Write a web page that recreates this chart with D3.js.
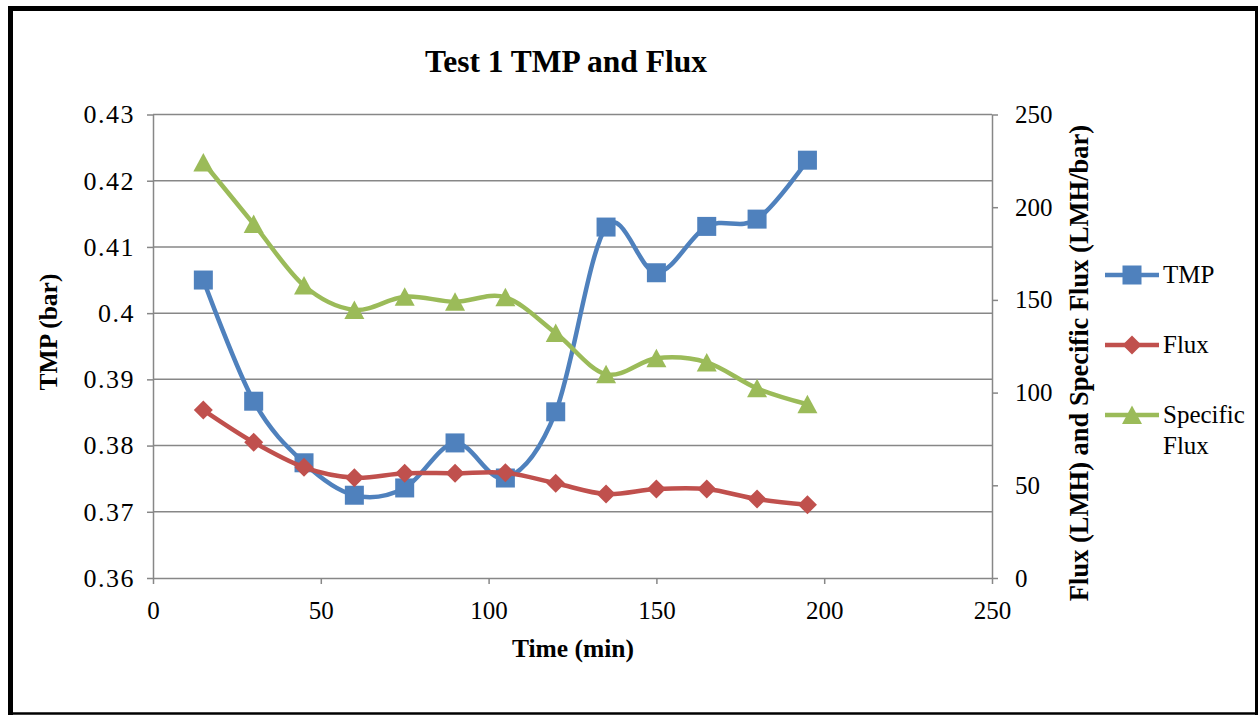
<!DOCTYPE html>
<html><head><meta charset="utf-8">
<script src="https://cdn.jsdelivr.net/npm/d3@7"></script>
<style>html,body{margin:0;padding:0;background:#fff;}svg{display:block;}</style>
</head><body>
<script>
const times = [15,30,45,60,75,90,105,120,135,150,165,180,195];
const tmp = [0.4050,0.3867,0.3774,0.3725,0.3736,0.3804,0.3751,0.3851,0.4130,0.4061,0.4131,0.4142,0.4231];
const flux = [90.6,73.2,59.7,54.1,56.5,56.5,56.8,51.1,45.3,48.0,48.0,42.6,39.5];
const specFlux = [224.1,190.9,157.7,144.6,151.7,149.0,151.4,132.1,109.9,118.5,116.3,102.3,93.7];
const xTicks = [0,50,100,150,200,250];
const leftTicks = [0.36,0.37,0.38,0.39,0.40,0.41,0.42,0.43];
const leftTickLabels = ["0.36","0.37","0.38","0.39","0.4","0.41","0.42","0.43"];
const rightTicks = [0,50,100,150,200,250];
const seriesNames = ["TMP","Flux","Specific Flux"];

const W=1259,H=715;
const FONT='"Liberation Serif","Times New Roman",serif';
const svg=d3.select("body").append("svg").attr("width",W).attr("height",H);

const x=d3.scaleLinear().domain([0,250]).range([153,992]);
const yL=d3.scaleLinear().domain([0.36,0.43]).range([578,114.5]);
const yR=d3.scaleLinear().domain([0,250]).range([578,114.5]);

const grid="#878787";
svg.append("g").selectAll("line").data(leftTicks.slice(1)).join("line")
  .attr("x1",x(0)).attr("x2",x(250)).attr("y1",d=>yL(d)).attr("y2",d=>yL(d))
  .attr("stroke",grid).attr("stroke-width",1.5);

function styleAxis(g,fs){
  g.select(".domain").attr("stroke",grid).attr("stroke-width",1.5);
  g.selectAll(".tick line").attr("stroke",grid).attr("stroke-width",1.5);
  g.selectAll("text").attr("font-family",FONT).attr("font-size",fs||25).attr("fill","#000");
}
const ax=svg.append("g").attr("transform",`translate(0,578)`)
  .call(d3.axisBottom(x).tickValues(xTicks).tickSize(6).tickSizeOuter(0).tickPadding(17).tickFormat(d3.format("d")));
styleAxis(ax);
const al=svg.append("g").attr("transform",`translate(153,0)`)
  .call(d3.axisLeft(yL).tickValues(leftTicks).tickSize(6).tickSizeOuter(0).tickPadding(12).tickFormat((d,i)=>leftTickLabels[i]));
styleAxis(al,26);
al.selectAll("text").attr("letter-spacing",1.5);
const ar=svg.append("g").attr("transform",`translate(992,0)`)
  .call(d3.axisRight(yR).tickValues(rightTicks).tickSize(6).tickSizeOuter(0).tickPadding(17).tickFormat(d3.format("d")));
styleAxis(ar);

const colors=["#4F81BD","#C0504D","#9BBB59"];
const curve=d3.curveCardinal.tension(0);

function marker(g,type,cx,cy,color){
  if(type===0){
    g.append("rect").attr("x",cx-9.5).attr("y",cy-9.5).attr("width",19).attr("height",19).attr("fill",color);
  } else if(type===1){
    g.append("path").attr("d",`M${cx},${cy-9.5}L${cx+9.5},${cy}L${cx},${cy+9.5}L${cx-9.5},${cy}Z`).attr("fill",color);
  } else {
    g.append("path").attr("d",`M${cx},${cy-9.5}L${cx+10},${cy+9}L${cx-10},${cy+9}Z`).attr("fill",color);
  }
}

const allSeries=[
  {vals:tmp,y:yL},
  {vals:flux,y:yR},
  {vals:specFlux,y:yR}
];
allSeries.forEach((s,k)=>{
  const pts=times.map((t,i)=>[x(t),s.y(s.vals[i])]);
  const g=svg.append("g");
  g.append("path").attr("d",d3.line().curve(curve)(pts)).attr("fill","none")
    .attr("stroke",colors[k]).attr("stroke-width",4.5).attr("stroke-linejoin","round");
  pts.forEach(p=>marker(g,k,p[0],p[1],colors[k]));
});

const legY=[275,345,415];
seriesNames.forEach((n,k)=>{
  const g=svg.append("g");
  g.append("line").attr("x1",1105).attr("x2",1159).attr("y1",legY[k]).attr("y2",legY[k])
    .attr("stroke",colors[k]).attr("stroke-width",4.5);
  marker(g,k,1132,legY[k],colors[k]);
  const t=g.append("text").attr("x",1163).attr("y",legY[k]+8).attr("font-family",FONT).attr("font-size",25);
  if(k===2){
    t.append("tspan").attr("x",1163).text("Specific");
    t.append("tspan").attr("x",1163).attr("dy",31).text("Flux");
  } else t.text(n);
});

svg.append("text").attr("x",566).attr("y",72).attr("text-anchor","middle").attr("font-family",FONT)
  .attr("font-weight","bold").attr("font-size",31.5).text("Test 1 TMP and Flux");
svg.append("text").attr("x",573).attr("y",657).attr("text-anchor","middle").attr("font-family",FONT)
  .attr("font-weight","bold").attr("font-size",25.5).text("Time (min)");
svg.append("text").attr("transform","translate(57,332) rotate(-90)").attr("text-anchor","middle").attr("font-family",FONT)
  .attr("font-weight","bold").attr("font-size",25.5).text("TMP (bar)");
svg.append("text").attr("transform","translate(1088,363) rotate(-90)").attr("text-anchor","middle").attr("font-family",FONT)
  .attr("font-weight","bold").attr("font-size",26.5).text("Flux (LMH) and Specific Flux (LMH/bar)");

const fr=svg.append("g").attr("stroke","#000");
fr.append("line").attr("x1",8).attr("x2",1258).attr("y1",8.5).attr("y2",8.5).attr("stroke-width",5);
fr.append("line").attr("x1",10.5).attr("x2",10.5).attr("y1",6).attr("y2",715).attr("stroke-width",5);
fr.append("line").attr("x1",1256.5).attr("x2",1256.5).attr("y1",6).attr("y2",715).attr("stroke-width",3);
fr.append("line").attr("x1",8).attr("x2",1258).attr("y1",713.5).attr("y2",713.5).attr("stroke-width",2.5);
</script>
</body></html>
